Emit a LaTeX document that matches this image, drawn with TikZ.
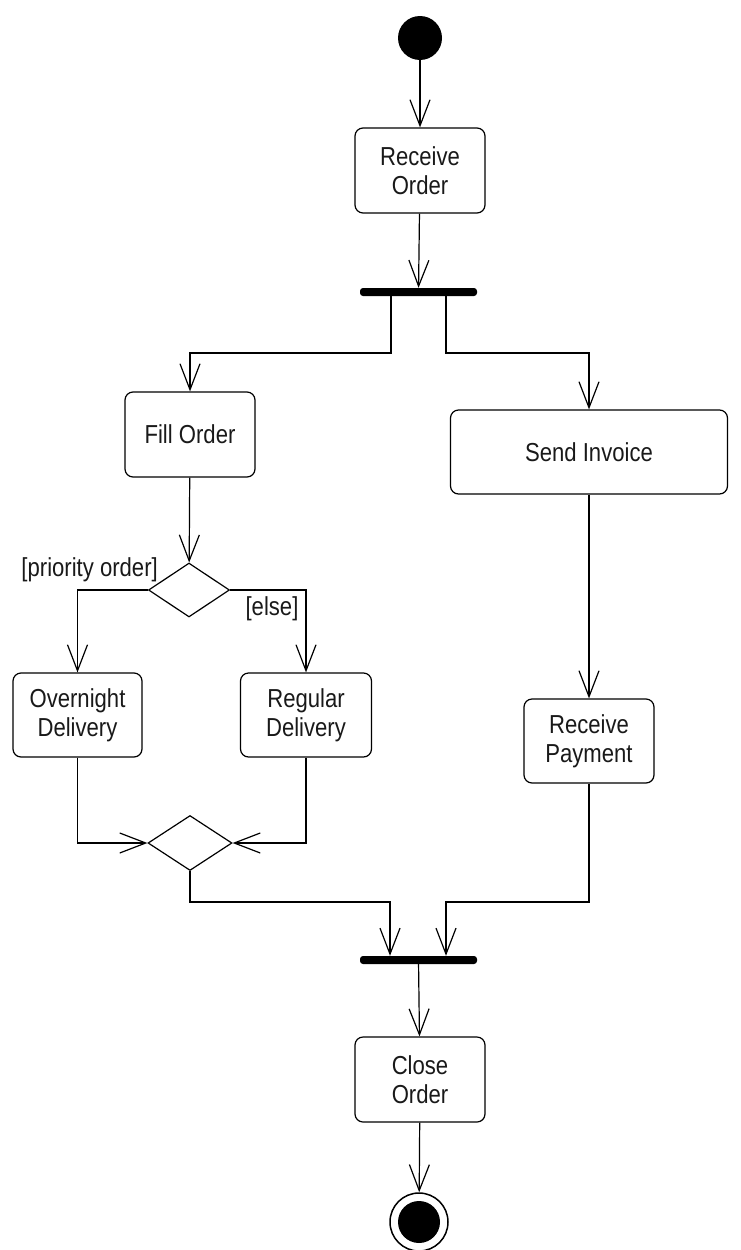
\documentclass[tikz,border=0pt]{standalone}
\usepackage{fontspec}
\setmainfont[FakeStretch=0.85]{Liberation Sans}
\usetikzlibrary{arrows.meta,shapes.geometric,calc}
\begin{document}
\begin{tikzpicture}[x=1pt,y=-1pt,
  act/.style={draw, rounded corners=8pt, line width=1.2pt, align=center,
    font=\fontsize{26}{29}\selectfont, inner sep=0pt, text=black!90},
  bar/.style={fill=black, rounded corners=3pt, minimum width=117pt, minimum height=8pt, inner sep=0pt},
  dec/.style={draw, diamond, line width=1.2pt, inner sep=0pt},
  arr/.style={line width=1.2pt, -{Straight Barb[length=26pt,width=20pt,line width=1.2pt]}},
  lbl/.style={font=\fontsize{26}{29}\selectfont, inner sep=0pt, text=black!90}]
\useasboundingbox (0,0) rectangle (740,1250);

\node[circle, fill=black, minimum size=44pt, inner sep=0pt] (start) at (420,38) {};
\node[act, minimum width=130pt, minimum height=85pt] (recv) at (420,170.5) {Receive\\Order};
\node[bar] (fork) at (418.5,292) {};
\node[act, minimum width=130pt, minimum height=85pt] (fill) at (190,434.5) {Fill Order};
\node[act, minimum width=277pt, minimum height=84pt] (send) at (589,452) {Send Invoice};
\node[dec, minimum width=81pt, minimum height=54pt] (d1) at (189,590) {};
\node[act, minimum width=129pt, minimum height=84pt] (over) at (77.5,715) {Overnight\\Delivery};
\node[act, minimum width=131pt, minimum height=84pt] (reg) at (306,715) {Regular\\Delivery};
\node[act, minimum width=130pt, minimum height=84pt] (pay) at (589,741) {Receive\\Payment};
\node[dec, minimum width=84pt, minimum height=55pt] (d2) at (190,843) {};
\node[bar] (join) at (418.5,960) {};
\node[act, minimum width=130pt, minimum height=85pt] (close) at (420,1079.5) {Close\\Order};
\node[circle, draw, line width=1.5pt, minimum size=58pt, inner sep=0pt] (final) at (419,1222) {};
\node[circle, fill=black, minimum size=42pt, inner sep=0pt] (finalin) at (final.center) {};

\node[lbl, anchor=east] (lp) at (158,570) {[priority order]};
\node[lbl] (le) at (272,609) {[else]};

\coordinate (f1) at (391,353);
\coordinate (f2) at (446,353);
\coordinate (j1) at (390,902);
\coordinate (j2) at (446,902);

\draw[arr] (start) -- (recv);
\draw[arr] (recv) -- (fork);
\draw[arr] (fork.south -| f1) -- (f1) -| (fill.north);
\draw[arr] (fork.south -| f2) -- (f2) -| (send.north);
\draw[arr] (fill) -- (d1);
\draw[arr] (d1.west) -| (over.north);
\draw[arr] (d1.east) -| (reg.north);
\draw[arr] (over.south) |- (d2.west);
\draw[arr] (reg.south) |- (d2.east);
\draw[arr] (d2.south) |- (j1) -- (join.north -| j1);
\draw[arr] (send) -- (pay);
\draw[arr] (pay.south) |- (j2) -- (join.north -| j2);
\draw[arr] (join) -- (close);
\draw[arr] (close) -- (final);
\end{tikzpicture}
\end{document}
